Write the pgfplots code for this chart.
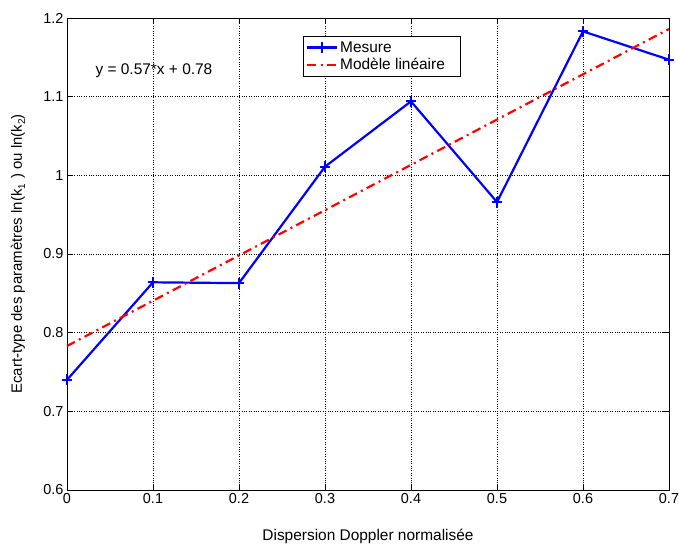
\documentclass[border=0pt]{standalone}
\usepackage{pgfplots}
\pgfplotsset{compat=1.18}
\usepackage{fontspec}
\setmainfont{Liberation Sans}
\begin{document}
\begin{tikzpicture}[x=1bp,y=1bp]
\begin{axis}[
  scale only axis,
  width=602bp, height=472bp,
  xmin=0, xmax=0.7, ymin=0.6, ymax=1.2,
  xtick={0,0.1,...,0.7},
  ytick={0.6,0.7,...,1.2},
  xticklabels={0,0.1,0.2,0.3,0.4,0.5,0.6,0.7},
  yticklabels={0.6,0.7,0.8,0.9,1,1.1,1.2},
  /pgf/number format/assume math mode=true,
  grid=major,
  major grid style={black, dotted, line width=0.6pt},
  tick align=inside,
  tick style={black, line width=0.6pt},
  major tick length=6bp,
  axis line style={black, line width=0.7pt},
  tick label style={font=\fontsize{14.5}{17}\selectfont},
  xlabel={Dispersion Doppler normalisée},
  ylabel={Ecart-type des paramètres ln(k\raisebox{-3.5pt}{\fontsize{10}{11}\selectfont 1}\,\,) ou ln(k\raisebox{-3.5pt}{\fontsize{10}{11}\selectfont 2})},
  every axis x label/.style={at={(axis description cs:0.5,0)}, yshift=-46bp, anchor=center, font=\fontsize{15.5}{17}\selectfont},
  every axis y label/.style={at={(axis description cs:0,0.5)}, xshift=-49bp, rotate=90, anchor=center, font=\fontsize{15}{17}\selectfont},
  legend style={at={(axis cs:0.274,1.177)}, anchor=north west, draw=black, line width=0.7pt,
    font=\fontsize{15.5}{17}\selectfont, row sep=1pt, inner sep=3pt, cells={anchor=west}},
  legend cell align=left,
  legend image code/.code={\draw[#1] (2bp,0bp) -- (32bp,0bp); \draw[#1, only marks] plot coordinates {(17bp,0bp)};},
]
\addplot[blue, line width=2.2pt, mark=+, mark size=5.5pt, mark options={solid, line width=2.2pt}]
  coordinates {(0,0.740) (0.1,0.864) (0.2,0.863) (0.3,1.011) (0.4,1.094) (0.5,0.966) (0.6,1.183) (0.7,1.147)};
\addlegendentry{Mesure}
\addplot[red, line width=2.2pt, dash pattern=on 9pt off 4.5pt on 2pt off 4.5pt]
  coordinates {(0,0.783) (0.7,1.186)};
\addlegendentry{Modèle linéaire\,\,\,\,}
\node[anchor=west, font=\fontsize{15.5}{17}\selectfont, inner sep=0pt] at (axis cs:0.033,1.133) {y = 0.57*x + 0.78};
\end{axis}
\pgfresetboundingbox
\path (current axis.south west) ++(-67bp,-54bp) rectangle ([shift={(10bp,18bp)}]current axis.north east);
\end{tikzpicture}
\end{document}
